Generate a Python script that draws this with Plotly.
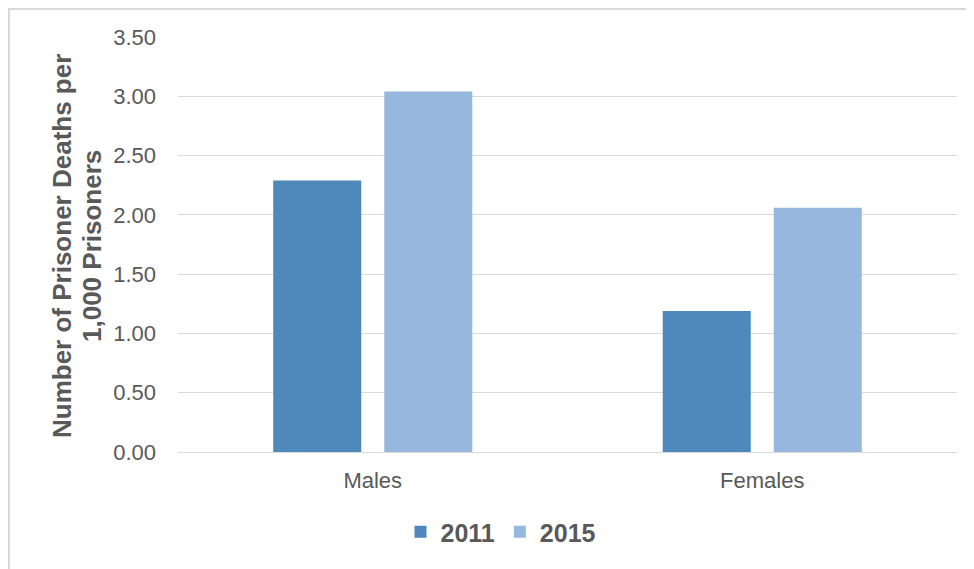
import plotly.graph_objects as go

categories = ["Males", "Females"]
values_2011 = [2.29, 1.19]
values_2015 = [3.04, 2.06]
series_names = ["2011", "2015"]
tick_vals = [0, 0.5, 1.0, 1.5, 2.0, 2.5, 3.0, 3.5]
tick_text = ["0.00", "0.50", "1.00", "1.50", "2.00", "2.50", "3.00", "3.50"]
title_lines = ["Number of Prisoner Deaths per", "1,000 Prisoners"]

grey = "#595959"
font_family = "Liberation Sans, Arial, sans-serif"

fig = go.Figure()
fig.add_trace(go.Bar(x=categories, y=values_2011, name=series_names[0],
                     marker=dict(color="#4F88BB", line=dict(width=0))))
fig.add_trace(go.Bar(x=categories, y=values_2015, name=series_names[1],
                     marker=dict(color="#97B8DE", line=dict(width=0))))

# plot area in screen pixels: x 178..957, y 37..452 (page has 8px body offset)
def px_x(p):
    return (p - 178) / 779

def px_y(p):
    return (452 - p) / 415

fig.update_layout(
    width=974, height=569,
    margin=dict(l=170, r=25, t=29, b=125),
    paper_bgcolor="white", plot_bgcolor="white",
    barmode="group", bargap=0.43, bargroupgap=0.207,
    font=dict(family=font_family, color=grey, size=22),
    showlegend=True,
    legend=dict(orientation="h", x=px_x(501), xanchor="center", y=px_y(532), yanchor="middle",
                font=dict(size=25, color=grey, family=font_family, weight="bold"),
                itemwidth=30, traceorder="normal", itemclick=False),
    xaxis=dict(showgrid=False, showline=False, ticks="", tickfont=dict(size=22, color=grey),
               ticklabelstandoff=13),
    yaxis=dict(range=[0, 3.5], tickvals=tick_vals, ticktext=tick_text,
               showgrid=True, gridcolor="#d9d9d9", gridwidth=1,
               zeroline=True, zerolinecolor="#d9d9d9", zerolinewidth=1,
               showline=False, ticks="", tickfont=dict(size=22, color=grey),
               ticklabelstandoff=21),
    annotations=[
        dict(text=title_lines[0], textangle=-90, xref="paper", yref="paper",
             x=px_x(62), y=px_y(246), xanchor="center", yanchor="middle",
             showarrow=False, font=dict(size=26, color=grey, family=font_family, weight="bold")),
        dict(text=title_lines[1], textangle=-90, xref="paper", yref="paper",
             x=px_x(92), y=px_y(246), xanchor="center", yanchor="middle",
             showarrow=False, font=dict(size=26, color=grey, family=font_family, weight="bold")),
    ],
    shapes=[dict(type="rect", xref="paper", yref="paper",
                 x0=px_x(9), x1=1.08, y0=-0.4, y1=px_y(9),
                 line=dict(color="#d9d9d9", width=2), fillcolor="rgba(0,0,0,0)", layer="below")],
)

fig.write_html("out.html")
